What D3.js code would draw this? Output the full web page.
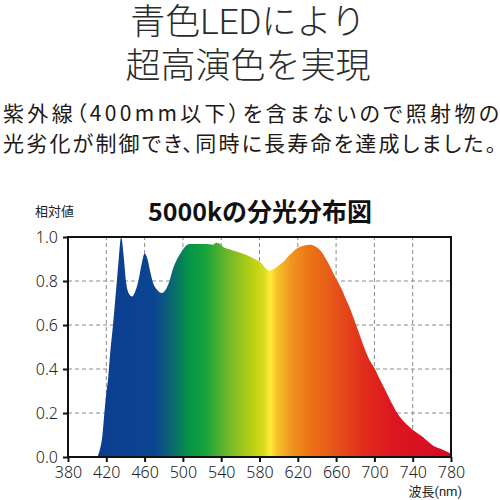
<!DOCTYPE html>
<html>
<head>
<meta charset="utf-8">
<script src="https://cdn.jsdelivr.net/npm/d3@7"></script>
<style>
  body { margin: 0; background: #fff; }
  svg { display: block; }
  .tick text { font-family: "Noto Sans", sans-serif; font-weight: 300; font-size: 16px; fill: #222; }
</style>
</head>
<body>
<svg id="chart" width="500" height="500"></svg>
<script>
// wavelength (nm) and relative intensity
const wavelengths = [400, 410, 413, 416, 418, 420, 422, 424, 427, 431, 433, 435.5, 438, 440.5, 444, 447, 450,
  453.5, 457, 460, 463, 466, 469, 473, 478, 482, 486, 490, 494, 498, 502, 507, 515, 525, 531, 535, 538, 542,
  548, 555, 562, 568, 575, 581, 586, 590, 595, 600, 605, 612, 619, 626, 633, 638, 642, 646, 650, 655, 660,
  665, 670, 675, 680, 685, 690, 695, 700, 706, 713, 718, 723, 730, 737, 741, 746, 751, 756, 761, 766, 772, 780];
const intensity = [0, 0, 0.03, 0.1, 0.2, 0.29, 0.36, 0.47, 0.6, 0.8, 0.9, 1.0, 0.92, 0.8, 0.74, 0.73, 0.75,
  0.8, 0.88, 0.925, 0.9, 0.84, 0.79, 0.76, 0.745, 0.76, 0.8, 0.86, 0.9, 0.93, 0.955, 0.968, 0.968, 0.968, 0.965,
  0.974, 0.97, 0.955, 0.945, 0.935, 0.925, 0.915, 0.9, 0.885, 0.86, 0.848, 0.855, 0.87, 0.888, 0.92, 0.948,
  0.96, 0.965, 0.958, 0.945, 0.925, 0.895, 0.855, 0.81, 0.77, 0.72, 0.67, 0.61, 0.55, 0.49, 0.44, 0.405,
  0.35, 0.29, 0.245, 0.206, 0.165, 0.135, 0.12, 0.105, 0.09, 0.07, 0.052, 0.042, 0.032, 0.015];

const xTicks = [380, 420, 460, 500, 540, 580, 620, 660, 700, 740, 780];
const yTicks = [0, 0.2, 0.4, 0.6, 0.8, 1.0];

const headline = ['青色LEDにより', '超高演色を実現'];
const bodyText = ['紫外線（400mm以下）を含まないので照射物の', '光劣化が制御でき、同時に長寿命を達成しました。'];
const chartTitle = '5000kの分光分布図';
const yTitle = '相対値';
const xTitle = '波長(nm)';

// spectrum colours along the wavelength axis
const gradStops = [
  [410, '#0b3d91'], [470, '#0b4592'], [486, '#0a6274'], [505, '#06924a'], [522, '#12a23c'],
  [546, '#6cb62a'], [570, '#b3cd14'], [585, '#d9dc1c'], [591, '#ffec3a'], [598, '#f8c42a'],
  [612, '#f09822'], [632, '#ec7414'], [660, '#e6521a'], [690, '#e22c1c'], [720, '#dc1620'], [780, '#d60c22'],
];

const svg = d3.select('#chart');
const jp = '"Noto Sans CJK JP", sans-serif';
// latin face first keeps the line boxes tight, kanji fall through to Noto CJK
const jpTight = 'Roboto, "Noto Sans CJK JP", sans-serif';

const x = d3.scaleLinear().domain([380, 780]).range([68, 451]);
const y = d3.scaleLinear().domain([0, 1]).range([457, 237]);

// headline + paragraph
svg.selectAll('text.head')
  .data(headline)
  .enter().append('text')
    .attr('class', 'head')
    .attr('x', 248)
    .attr('y', (d, i) => 34 + i * 44)
    .attr('text-anchor', 'middle')
    .style('font-family', jpTight)
    .style('font-weight', 300)
    .style('font-size', '35px')
    .style('fill', '#2b2b2b')
    .text(d => d);

svg.selectAll('text.body')
  .data(bodyText)
  .enter().append('text')
    .attr('class', 'body')
    .attr('x', 3)
    .attr('y', (d, i) => 121 + i * 30)
    .attr('textLength', (d, i) => (i === 0 ? 496 : 493))
    .attr('lengthAdjust', 'spacing')
    .style('font-family', jp)
    .style('font-feature-settings', '"palt"')
    .style('font-size', '21px')
    .style('fill', '#231815')
    .text(d => d);

// chart title and axis titles
svg.append('text')
  .attr('x', 260)
  .attr('y', 221)
  .attr('text-anchor', 'middle')
  .style('font-family', jp)
  .style('font-weight', 700)
  .style('font-size', '25px')
  .style('fill', '#111')
  .text(chartTitle);

svg.append('text')
  .attr('x', 35)
  .attr('y', 216)
  .style('font-family', jp)
  .style('font-size', '13px')
  .style('fill', '#222')
  .text(yTitle);

svg.append('text')
  .attr('x', 462)
  .attr('y', 496)
  .attr('text-anchor', 'end')
  .style('font-family', jpTight)
  .style('font-size', '13px')
  .style('fill', '#222')
  .text(xTitle);

// gradient
const grad = svg.append('defs').append('linearGradient')
  .attr('id', 'spectrum')
  .attr('gradientUnits', 'userSpaceOnUse')
  .attr('x1', x(380)).attr('x2', x(780))
  .attr('y1', 0).attr('y2', 0);

grad.selectAll('stop')
  .data(gradStops)
  .enter().append('stop')
    .attr('offset', d => (d[0] - 380) / 400)
    .attr('stop-color', d => d[1]);

// grid
const grid = svg.append('g')
  .attr('stroke', '#8a8a8a')
  .attr('stroke-width', 1)
  .attr('stroke-dasharray', '4,3');

grid.selectAll('line.v')
  .data(xTicks.slice(1, -1))
  .enter().append('line')
    .attr('x1', d => x(d)).attr('x2', d => x(d))
    .attr('y1', y(0)).attr('y2', y(1));

grid.selectAll('line.h')
  .data(yTicks.slice(1, -1))
  .enter().append('line')
    .attr('x1', x(380)).attr('x2', x(780))
    .attr('y1', d => y(d)).attr('y2', d => y(d));

// spectrum
const data = wavelengths.map((w, i) => ({ w, v: intensity[i] }));

const area = d3.area()
  .x(d => x(d.w))
  .y0(y(0))
  .y1(d => y(d.v))
  .curve(d3.curveMonotoneX);

svg.append('path')
  .datum(data)
  .attr('d', area)
  .attr('fill', 'url(#spectrum)');

// frame
svg.append('rect')
  .attr('x', x(380))
  .attr('y', y(1))
  .attr('width', x(780) - x(380))
  .attr('height', y(0) - y(1))
  .attr('fill', 'none')
  .attr('stroke', '#111')
  .attr('stroke-width', 2);

// axes
svg.append('g')
  .attr('transform', `translate(0,${y(0)})`)
  .call(d3.axisBottom(x).tickValues(xTicks).tickSize(5).tickPadding(5).tickFormat(d3.format('d')))
  .call(g => g.select('.domain').remove())
  .call(g => g.selectAll('line').attr('stroke', '#111').attr('stroke-width', 2));

svg.append('g')
  .attr('transform', `translate(${x(380)},0)`)
  .call(d3.axisLeft(y).tickValues(yTicks).tickSize(5).tickPadding(5).tickFormat(d3.format('.1f')))
  .call(g => g.select('.domain').remove())
  .call(g => g.selectAll('line').attr('stroke', '#111').attr('stroke-width', 2));
</script>
</body>
</html>
